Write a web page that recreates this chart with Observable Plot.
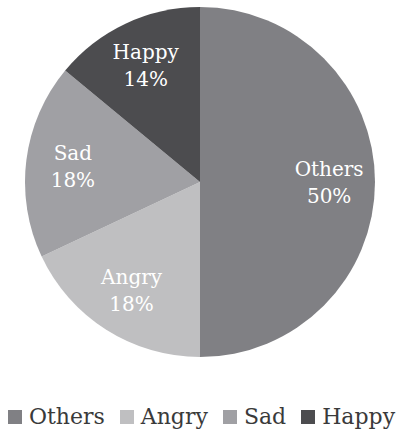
<!DOCTYPE html>
<html><head><meta charset="utf-8">
<script src="https://cdn.jsdelivr.net/npm/d3@7"></script>
<script src="https://cdn.jsdelivr.net/npm/@observablehq/plot@0.6"></script>
<style>
html,body{margin:0;padding:0;background:#fff;}
#chart{width:399px;}
#chart svg{display:block;}
.lg-swatches{font-family:"DejaVu Serif",serif;font-size:22px;color:#3a3a3a;margin:29px 0 0 4px;min-height:0;justify-content:center;}
.lg-swatch{margin-right:15px;}
.lg-swatch:last-child{margin-right:0;}
.lg-swatch > svg{margin-right:7px;}
</style></head><body><div id="chart"></div>
<script>
const categories = ["Others", "Angry", "Sad", "Happy"];
const shares = [50, 18, 18, 14];
const palette = ["#808084", "#bfbfc1", "#a0a0a4", "#4c4c4f"];

const rows = categories.map((c, i) => ({category: c, share: shares[i], label: `${c}\n${shares[i]}%`}));
const total = d3.sum(shares);
let acc = 0;
rows.forEach(d => {
  const a0 = acc / total * 2 * Math.PI;
  acc += d.share;
  const a1 = acc / total * 2 * Math.PI;
  d.mid = (a0 + a1) / 2;
});
const labelRadius = 0.735;

function pieRender(index, scales, values) {
  const cx = scales.x(0), cy = scales.y(0), r = scales.x(1) - scales.x(0);
  const arcs = d3.pie().sort(null).value(i => rows[i].share)(Array.from(index));
  const g = d3.create("svg:g");
  g.selectAll("path").data(arcs).join("path")
    .attr("transform", `translate(${cx},${cy})`)
    .attr("d", d3.arc().innerRadius(0).outerRadius(r))
    .attr("fill", d => values.fill[d.data]);
  return g.node();
}

const plot = Plot.plot({
  width: 399, height: 375,
  marginLeft: 25, marginRight: 24, marginTop: 7, marginBottom: 18,
  x: {domain: [-1, 1], axis: null},
  y: {domain: [-1, 1], axis: null},
  color: {domain: categories, range: palette},
  style: {fontFamily: "DejaVu Serif, serif", background: "white"},
  marks: [
    Plot.dot(rows, {x: () => 0, y: () => 0, fill: "category", render: pieRender}),
    Plot.text(rows, {
      x: d => labelRadius * Math.sin(d.mid),
      y: d => labelRadius * Math.cos(d.mid),
      text: "label", fill: "white", fontSize: 20, lineHeight: 1.35, dy: -2,
      fontFamily: "DejaVu Serif"
    })
  ]
});
document.getElementById("chart").append(plot);
const legend = Plot.legend({color: {type: "ordinal", domain: categories, range: palette}, swatchSize: 14, className: "lg"});
document.getElementById("chart").append(legend);
</script></body></html>
